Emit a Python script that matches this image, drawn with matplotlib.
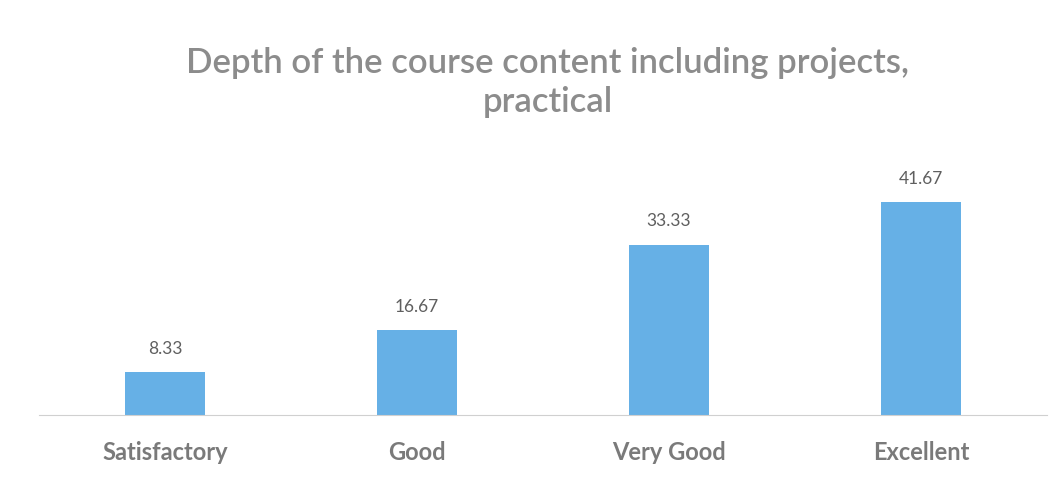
import matplotlib
matplotlib.use("Agg")
import matplotlib.pyplot as plt

categories = ["Satisfactory", "Good", "Very Good", "Excellent"]
values = [8.33, 16.67, 33.33, 41.67]
value_labels = ["8.33", "16.67", "33.33", "41.67"]
title = "Depth of the course content including projects,\npractical"

plt.rcParams['font.family'] = ['Lato', 'DejaVu Sans']

fig = plt.figure(figsize=(10.62, 4.82), dpi=100)
ax = fig.add_axes([39/1062, 67/482, 1008/1062, 0.477])
x = list(range(len(categories)))
ax.bar(x, values, width=0.32, color="#66b0e6")
ax.set_xlim(-0.5, 3.5)
ax.set_ylim(0, 45)
for xi, v, lab in zip(x, values, value_labels):
    ax.text(xi, v + 3.0, lab, ha="center", va="bottom", fontsize=12.5, color="#5f5f5f")
for s in ["top", "right", "left"]:
    ax.spines[s].set_visible(False)
ax.spines["bottom"].set_color("#d0d0d0")
ax.set_yticks([])
ax.set_xticks(x)
ax.set_xticklabels(categories, fontsize=17, color="#7a7a7a", fontweight="bold")
ax.tick_params(axis="x", length=0, pad=19)
fig.text(0.516, 0.828, title, ha="center", va="center", fontsize=25, color="#8c8c8c",
         fontweight="semibold", linespacing=1.27)
fig.savefig("out.png", dpi=100, facecolor="white")
